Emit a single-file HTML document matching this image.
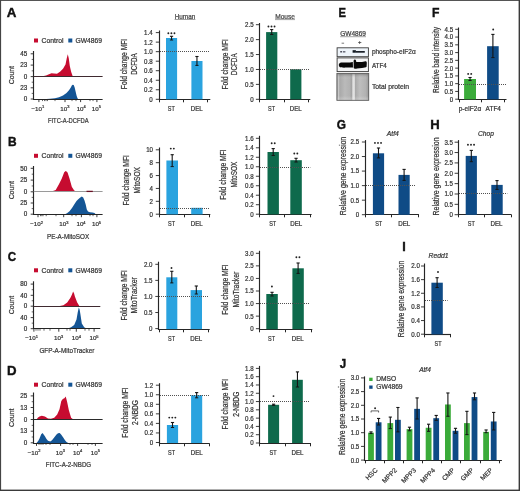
<!DOCTYPE html>
<html><head><meta charset="utf-8"><style>
html,body{margin:0;padding:0;background:#fff;}
svg{display:block;will-change:transform;}
text{font-family:"Liberation Sans",sans-serif;stroke:#3a3a3a;stroke-width:0.22px;}
</style></head><body>
<svg width="520" height="491" viewBox="0 0 520 491">
<rect x="0" y="0" width="520" height="491" fill="#fff"/>
<g fill="#2e2e2e">
<text transform="translate(6.87,17.3) scale(1.06,1)" font-size="12.6" font-weight="bold" fill="#111" style="stroke:#111;stroke-width:0.4px">A</text>
<rect x="34" y="38.5" width="4" height="4" fill="#c60c30"/>
<text x="41.5" y="42.8" font-size="7" textLength="22" lengthAdjust="spacingAndGlyphs">Control</text>
<rect x="68.3" y="38.5" width="4" height="4" fill="#145595"/>
<text x="75.4" y="42.8" font-size="7" textLength="26.6" lengthAdjust="spacingAndGlyphs">GW4869</text>
<path d="M41.5,76.5 L46,75.6 L49,74.2 L51.5,73.2 L54,73.6 L57,73.8 L60,71.8 L63,68.8 L65.5,64.5 L66.8,58 L67.8,54.2 L68.8,58.5 L69.8,66 L71.2,72 L72.8,76.5 Z" fill="#c60c30"/>
<path d="M43,99.3 L50,98.8 L55,98.2 L59,97.2 L63,95.6 L66.5,93 L69,90.2 L70.8,87.6 L71.8,85.6 L72.7,84.7 L73.7,85 L74.6,87.2 L75.6,91.5 L76.6,95.8 L77.5,98.3 L78.3,99.3 Z" fill="#145595"/>
<line x1="33.5" y1="51" x2="33.5" y2="100" stroke="#262626" stroke-width="1.15"/>
<line x1="33.5" y1="76.5" x2="102.6" y2="76.5" stroke="#3f2a30" stroke-width="1.1"/>
<line x1="33" y1="99.5" x2="102.6" y2="99.5" stroke="#262626" stroke-width="1.15"/>
<line x1="30.7" y1="53.8" x2="33.7" y2="53.8" stroke="#262626" stroke-width="0.9"/>
<text x="27.2" y="56" font-size="6.3" text-anchor="end">45</text>
<line x1="30.7" y1="65.1" x2="33.7" y2="65.1" stroke="#262626" stroke-width="0.9"/>
<text x="27.2" y="67.3" font-size="6.3" text-anchor="end">23</text>
<line x1="30.7" y1="76.6" x2="33.7" y2="76.6" stroke="#262626" stroke-width="0.9"/>
<text x="27.2" y="78.8" font-size="6.3" text-anchor="end">0</text>
<line x1="30.7" y1="87.8" x2="33.7" y2="87.8" stroke="#262626" stroke-width="0.9"/>
<text x="27.2" y="90" font-size="6.3" text-anchor="end">23</text>
<line x1="30.7" y1="99" x2="33.7" y2="99" stroke="#262626" stroke-width="0.9"/>
<text x="27.2" y="101.2" font-size="6.3" text-anchor="end">0</text>
<line x1="31.7" y1="59.45" x2="33.7" y2="59.45" stroke="#262626" stroke-width="0.7"/>
<line x1="31.7" y1="70.85" x2="33.7" y2="70.85" stroke="#262626" stroke-width="0.7"/>
<line x1="31.7" y1="82.2" x2="33.7" y2="82.2" stroke="#262626" stroke-width="0.7"/>
<line x1="31.7" y1="93.4" x2="33.7" y2="93.4" stroke="#262626" stroke-width="0.7"/>
<line x1="38.9" y1="99.3" x2="38.9" y2="102.1" stroke="#262626" stroke-width="0.9"/>
<line x1="65" y1="99.3" x2="65" y2="102.1" stroke="#262626" stroke-width="0.9"/>
<line x1="80.6" y1="99.3" x2="80.6" y2="102.1" stroke="#262626" stroke-width="0.9"/>
<line x1="96.9" y1="99.3" x2="96.9" y2="102.1" stroke="#262626" stroke-width="0.9"/>
<line x1="42.5" y1="99.3" x2="42.5" y2="101.1" stroke="#262626" stroke-width="0.7"/>
<line x1="44.5" y1="99.3" x2="44.5" y2="101.1" stroke="#262626" stroke-width="0.7"/>
<line x1="46" y1="99.3" x2="46" y2="101.1" stroke="#262626" stroke-width="0.7"/>
<line x1="47.5" y1="99.3" x2="47.5" y2="101.1" stroke="#262626" stroke-width="0.7"/>
<line x1="55" y1="99.3" x2="55" y2="101.1" stroke="#262626" stroke-width="0.7"/>
<line x1="72" y1="99.3" x2="72" y2="101.1" stroke="#262626" stroke-width="0.7"/>
<line x1="76" y1="99.3" x2="76" y2="101.1" stroke="#262626" stroke-width="0.7"/>
<line x1="90" y1="99.3" x2="90" y2="101.1" stroke="#262626" stroke-width="0.7"/>
<line x1="93" y1="99.3" x2="93" y2="101.1" stroke="#262626" stroke-width="0.7"/>
<text x="37.8" y="111" font-size="6.2" text-anchor="middle">&#8722;10<tspan font-size="4" dy="-2.6">1</tspan></text>
<text x="64.8" y="111" font-size="6.2" text-anchor="middle">10<tspan font-size="4" dy="-2.6">3</tspan></text>
<text x="81.2" y="111" font-size="6.2" text-anchor="middle">10<tspan font-size="4" dy="-2.6">4</tspan></text>
<text x="96.4" y="111" font-size="6.2" text-anchor="middle">10<tspan font-size="4" dy="-2.6">5</tspan></text>
<text transform="translate(13.9,75.15) rotate(-90)" font-size="7.4" text-anchor="middle" textLength="18.3" lengthAdjust="spacingAndGlyphs">Count</text>
<text x="68.3" y="123.2" font-size="7.6" text-anchor="middle" textLength="40.8" lengthAdjust="spacingAndGlyphs">FITC-A-DCFDA</text>
<text transform="translate(8,145.9) scale(0.95,1)" font-size="12.6" font-weight="bold" fill="#111" style="stroke:#111;stroke-width:0.4px">B</text>
<rect x="34" y="153.8" width="4" height="4" fill="#c60c30"/>
<text x="41.5" y="158.1" font-size="7" textLength="22" lengthAdjust="spacingAndGlyphs">Control</text>
<rect x="68.3" y="153.8" width="4" height="4" fill="#145595"/>
<text x="75.4" y="158.1" font-size="7" textLength="26.6" lengthAdjust="spacingAndGlyphs">GW4869</text>
<path d="M49.5,191.6 L53,191 L55.7,189.9 L58.8,184.5 L61.8,178.4 L64.2,172.2 L65.7,171 L67.2,172 L67.7,173 L69.5,178.4 L71.8,186.8 L74.2,190.6 L76,191.2 L80,191.3 L86,191 L90,190.9 L93,191.6 Z" fill="#c60c30"/>
<path d="M64.5,214.4 L67,213.2 L69.5,211.2 L72,208 L74.2,204.5 L76.5,201 L78.5,199 L80.3,197.6 L81.8,196.6 L83.2,197.6 L84.5,200.5 L85.7,204.5 L86.8,209.5 L88,211.6 L90,212.2 L92.5,212.6 L94.5,213.1 L96,214.4 Z" fill="#145595"/>
<line x1="33.5" y1="166" x2="33.5" y2="215" stroke="#262626" stroke-width="1.15"/>
<line x1="33.5" y1="191.5" x2="102.6" y2="191.5" stroke="#9a9a9a" stroke-width="1.1"/>
<line x1="33" y1="214.5" x2="102.6" y2="214.5" stroke="#262626" stroke-width="1.15"/>
<line x1="30.7" y1="168.3" x2="33.7" y2="168.3" stroke="#262626" stroke-width="0.9"/>
<text x="27.2" y="170.5" font-size="6.3" text-anchor="end">50</text>
<line x1="30.7" y1="180.1" x2="33.7" y2="180.1" stroke="#262626" stroke-width="0.9"/>
<text x="27.2" y="182.3" font-size="6.3" text-anchor="end">25</text>
<line x1="30.7" y1="191.8" x2="33.7" y2="191.8" stroke="#262626" stroke-width="0.9"/>
<text x="27.2" y="194" font-size="6.3" text-anchor="end">0</text>
<line x1="30.7" y1="203" x2="33.7" y2="203" stroke="#262626" stroke-width="0.9"/>
<text x="27.2" y="205.2" font-size="6.3" text-anchor="end">25</text>
<line x1="30.7" y1="214.2" x2="33.7" y2="214.2" stroke="#262626" stroke-width="0.9"/>
<text x="27.2" y="216.4" font-size="6.3" text-anchor="end">0</text>
<line x1="31.7" y1="174.2" x2="33.7" y2="174.2" stroke="#262626" stroke-width="0.7"/>
<line x1="31.7" y1="185.95" x2="33.7" y2="185.95" stroke="#262626" stroke-width="0.7"/>
<line x1="31.7" y1="197.4" x2="33.7" y2="197.4" stroke="#262626" stroke-width="0.7"/>
<line x1="31.7" y1="208.6" x2="33.7" y2="208.6" stroke="#262626" stroke-width="0.7"/>
<line x1="38" y1="214.4" x2="38" y2="217.2" stroke="#262626" stroke-width="0.9"/>
<line x1="63.7" y1="214.4" x2="63.7" y2="217.2" stroke="#262626" stroke-width="0.9"/>
<line x1="81.4" y1="214.4" x2="81.4" y2="217.2" stroke="#262626" stroke-width="0.9"/>
<line x1="96.9" y1="214.4" x2="96.9" y2="217.2" stroke="#262626" stroke-width="0.9"/>
<line x1="40.5" y1="214.4" x2="40.5" y2="216.2" stroke="#262626" stroke-width="0.7"/>
<line x1="41.8" y1="214.4" x2="41.8" y2="216.2" stroke="#262626" stroke-width="0.7"/>
<line x1="43" y1="214.4" x2="43" y2="216.2" stroke="#262626" stroke-width="0.7"/>
<line x1="46.2" y1="214.4" x2="46.2" y2="216.2" stroke="#262626" stroke-width="0.7"/>
<line x1="56" y1="214.4" x2="56" y2="216.2" stroke="#262626" stroke-width="0.7"/>
<line x1="72" y1="214.4" x2="72" y2="216.2" stroke="#262626" stroke-width="0.7"/>
<line x1="76" y1="214.4" x2="76" y2="216.2" stroke="#262626" stroke-width="0.7"/>
<line x1="90" y1="214.4" x2="90" y2="216.2" stroke="#262626" stroke-width="0.7"/>
<line x1="93" y1="214.4" x2="93" y2="216.2" stroke="#262626" stroke-width="0.7"/>
<text x="36.6" y="226.2" font-size="6.2" text-anchor="middle">&#8722;10<tspan font-size="4" dy="-2.6">2</tspan></text>
<text x="63.9" y="226.2" font-size="6.2" text-anchor="middle">10<tspan font-size="4" dy="-2.6">3</tspan></text>
<text x="81" y="226.2" font-size="6.2" text-anchor="middle">10<tspan font-size="4" dy="-2.6">4</tspan></text>
<text x="96.5" y="226.2" font-size="6.2" text-anchor="middle">10<tspan font-size="4" dy="-2.6">5</tspan></text>
<text transform="translate(13.9,190.2) rotate(-90)" font-size="7.4" text-anchor="middle" textLength="18.3" lengthAdjust="spacingAndGlyphs">Count</text>
<text x="68.1" y="238.8" font-size="7.6" text-anchor="middle" textLength="42.2" lengthAdjust="spacingAndGlyphs">PE-A-MitoSOX</text>
<line x1="86.5" y1="191.4" x2="92.8" y2="191.4" stroke="#6a1025" stroke-width="1.3"/>
<text transform="translate(7.82,260.7) scale(0.92,1)" font-size="12.6" font-weight="bold" fill="#111" style="stroke:#111;stroke-width:0.4px">C</text>
<rect x="34" y="268.3" width="4" height="4" fill="#c60c30"/>
<text x="41.5" y="272.6" font-size="7" textLength="22" lengthAdjust="spacingAndGlyphs">Control</text>
<rect x="68.3" y="268.3" width="4" height="4" fill="#145595"/>
<text x="75.4" y="272.6" font-size="7" textLength="26.6" lengthAdjust="spacingAndGlyphs">GW4869</text>
<path d="M58.5,306.2 L61,305.8 L63.4,305.3 L67.2,302.6 L70.3,298 L72,294.5 L73.1,291.5 L74.1,293.5 L74.9,296.5 L77.2,302.6 L79.5,306.2 Z" fill="#c60c30"/>
<path d="M66.5,328.9 L71.1,327.2 L74.2,324.9 L76.5,319.5 L77.8,312 L78.8,307.4 L79.6,309.5 L80.3,313.4 L81.8,323.4 L84.2,327.2 L86,328.3 L88,328.9 Z" fill="#145595"/>
<line x1="33.5" y1="281.3" x2="33.5" y2="329" stroke="#262626" stroke-width="1.15"/>
<line x1="33.5" y1="306.5" x2="100.3" y2="306.5" stroke="#3f2a30" stroke-width="1.1"/>
<line x1="33" y1="328.5" x2="100.3" y2="328.5" stroke="#262626" stroke-width="1.15"/>
<line x1="30.7" y1="284.1" x2="33.7" y2="284.1" stroke="#262626" stroke-width="0.9"/>
<text x="27.2" y="286.3" font-size="6.3" text-anchor="end">80</text>
<line x1="30.7" y1="295.3" x2="33.7" y2="295.3" stroke="#262626" stroke-width="0.9"/>
<text x="27.2" y="297.5" font-size="6.3" text-anchor="end">40</text>
<line x1="30.7" y1="306.2" x2="33.7" y2="306.2" stroke="#262626" stroke-width="0.9"/>
<text x="27.2" y="308.4" font-size="6.3" text-anchor="end">0</text>
<line x1="30.7" y1="317.6" x2="33.7" y2="317.6" stroke="#262626" stroke-width="0.9"/>
<text x="27.2" y="319.8" font-size="6.3" text-anchor="end">40</text>
<line x1="30.7" y1="328.7" x2="33.7" y2="328.7" stroke="#262626" stroke-width="0.9"/>
<text x="27.2" y="330.9" font-size="6.3" text-anchor="end">0</text>
<line x1="31.7" y1="289.7" x2="33.7" y2="289.7" stroke="#262626" stroke-width="0.7"/>
<line x1="31.7" y1="300.75" x2="33.7" y2="300.75" stroke="#262626" stroke-width="0.7"/>
<line x1="31.7" y1="311.9" x2="33.7" y2="311.9" stroke="#262626" stroke-width="0.7"/>
<line x1="31.7" y1="323.15" x2="33.7" y2="323.15" stroke="#262626" stroke-width="0.7"/>
<line x1="33.9" y1="328.9" x2="33.9" y2="331.7" stroke="#262626" stroke-width="0.9"/>
<line x1="58.8" y1="328.9" x2="58.8" y2="331.7" stroke="#262626" stroke-width="0.9"/>
<line x1="76.3" y1="328.9" x2="76.3" y2="331.7" stroke="#262626" stroke-width="0.9"/>
<line x1="94.1" y1="328.9" x2="94.1" y2="331.7" stroke="#262626" stroke-width="0.9"/>
<line x1="36" y1="328.9" x2="36" y2="330.7" stroke="#262626" stroke-width="0.7"/>
<line x1="38" y1="328.9" x2="38" y2="330.7" stroke="#262626" stroke-width="0.7"/>
<line x1="40" y1="328.9" x2="40" y2="330.7" stroke="#262626" stroke-width="0.7"/>
<line x1="44" y1="328.9" x2="44" y2="330.7" stroke="#262626" stroke-width="0.7"/>
<line x1="50" y1="328.9" x2="50" y2="330.7" stroke="#262626" stroke-width="0.7"/>
<line x1="67" y1="328.9" x2="67" y2="330.7" stroke="#262626" stroke-width="0.7"/>
<line x1="70" y1="328.9" x2="70" y2="330.7" stroke="#262626" stroke-width="0.7"/>
<line x1="85" y1="328.9" x2="85" y2="330.7" stroke="#262626" stroke-width="0.7"/>
<line x1="89" y1="328.9" x2="89" y2="330.7" stroke="#262626" stroke-width="0.7"/>
<text x="31.5" y="340.2" font-size="6.2" text-anchor="middle">&#8722;10<tspan font-size="4" dy="-2.6">1</tspan></text>
<text x="58.6" y="340.2" font-size="6.2" text-anchor="middle">10<tspan font-size="4" dy="-2.6">3</tspan></text>
<text x="76.4" y="340.2" font-size="6.2" text-anchor="middle">10<tspan font-size="4" dy="-2.6">4</tspan></text>
<text x="94" y="340.2" font-size="6.2" text-anchor="middle">10<tspan font-size="4" dy="-2.6">5</tspan></text>
<text transform="translate(13.9,305.1) rotate(-90)" font-size="7.4" text-anchor="middle" textLength="18.3" lengthAdjust="spacingAndGlyphs">Count</text>
<text x="66.9" y="352.8" font-size="7.6" text-anchor="middle" textLength="55" lengthAdjust="spacingAndGlyphs">GFP-A-MitoTracker</text>
<text transform="translate(7.12,375) scale(1.05,1)" font-size="12.6" font-weight="bold" fill="#111" style="stroke:#111;stroke-width:0.4px">D</text>
<rect x="34" y="382.7" width="4" height="4" fill="#c60c30"/>
<text x="41.5" y="387" font-size="7" textLength="22" lengthAdjust="spacingAndGlyphs">Control</text>
<rect x="68.3" y="382.7" width="4" height="4" fill="#145595"/>
<text x="75.4" y="387" font-size="7" textLength="26.6" lengthAdjust="spacingAndGlyphs">GW4869</text>
<path d="M36.5,419.4 L38,417.6 L39.5,416.5 L41.8,415.8 L44.9,416.6 L48,418.4 L51,418.8 L54.2,417.7 L57.2,414.6 L59.5,409.2 L61.3,401 L62.8,398.9 L64.4,398.3 L65.7,396.5 L66.4,399 L67.2,402.3 L68.8,410 L71.1,417.7 L73.4,419.4 Z" fill="#c60c30"/>
<path d="M36.5,443.1 L38.2,441 L39.5,438.5 L41.2,434.2 L42.6,433 L44,435 L44.9,436.2 L46.5,439 L48,440.8 L50.3,441.5 L52,440.2 L53.4,438.5 L56.5,434.6 L58,433.3 L59.7,433.1 L61.1,434.6 L63.4,437.7 L65,440.3 L66.5,442 L68.2,443.1 Z" fill="#145595"/>
<line x1="33.5" y1="392.5" x2="33.5" y2="444" stroke="#262626" stroke-width="1.15"/>
<line x1="33.5" y1="419.5" x2="102.6" y2="419.5" stroke="#2a2a2a" stroke-width="1.1"/>
<line x1="33" y1="443.5" x2="102.6" y2="443.5" stroke="#262626" stroke-width="1.15"/>
<line x1="30.7" y1="395.9" x2="33.7" y2="395.9" stroke="#262626" stroke-width="0.9"/>
<text x="27.2" y="398.1" font-size="6.3" text-anchor="end">25</text>
<line x1="30.7" y1="407.5" x2="33.7" y2="407.5" stroke="#262626" stroke-width="0.9"/>
<text x="27.2" y="409.7" font-size="6.3" text-anchor="end">13</text>
<line x1="30.7" y1="419.5" x2="33.7" y2="419.5" stroke="#262626" stroke-width="0.9"/>
<text x="27.2" y="421.7" font-size="6.3" text-anchor="end">0</text>
<line x1="30.7" y1="431.2" x2="33.7" y2="431.2" stroke="#262626" stroke-width="0.9"/>
<text x="27.2" y="433.4" font-size="6.3" text-anchor="end">13</text>
<line x1="30.7" y1="442.8" x2="33.7" y2="442.8" stroke="#262626" stroke-width="0.9"/>
<text x="27.2" y="445" font-size="6.3" text-anchor="end">0</text>
<line x1="31.7" y1="401.7" x2="33.7" y2="401.7" stroke="#262626" stroke-width="0.7"/>
<line x1="31.7" y1="413.5" x2="33.7" y2="413.5" stroke="#262626" stroke-width="0.7"/>
<line x1="31.7" y1="425.35" x2="33.7" y2="425.35" stroke="#262626" stroke-width="0.7"/>
<line x1="31.7" y1="437" x2="33.7" y2="437" stroke="#262626" stroke-width="0.7"/>
<line x1="36.5" y1="443.1" x2="36.5" y2="445.9" stroke="#262626" stroke-width="0.9"/>
<line x1="60.6" y1="443.1" x2="60.6" y2="445.9" stroke="#262626" stroke-width="0.9"/>
<line x1="77.6" y1="443.1" x2="77.6" y2="445.9" stroke="#262626" stroke-width="0.9"/>
<line x1="95.4" y1="443.1" x2="95.4" y2="445.9" stroke="#262626" stroke-width="0.9"/>
<line x1="39" y1="443.1" x2="39" y2="444.9" stroke="#262626" stroke-width="0.7"/>
<line x1="41" y1="443.1" x2="41" y2="444.9" stroke="#262626" stroke-width="0.7"/>
<line x1="43" y1="443.1" x2="43" y2="444.9" stroke="#262626" stroke-width="0.7"/>
<line x1="46" y1="443.1" x2="46" y2="444.9" stroke="#262626" stroke-width="0.7"/>
<line x1="50" y1="443.1" x2="50" y2="444.9" stroke="#262626" stroke-width="0.7"/>
<line x1="70" y1="443.1" x2="70" y2="444.9" stroke="#262626" stroke-width="0.7"/>
<line x1="73" y1="443.1" x2="73" y2="444.9" stroke="#262626" stroke-width="0.7"/>
<line x1="88" y1="443.1" x2="88" y2="444.9" stroke="#262626" stroke-width="0.7"/>
<line x1="92" y1="443.1" x2="92" y2="444.9" stroke="#262626" stroke-width="0.7"/>
<text x="34" y="455" font-size="6.2" text-anchor="middle">&#8722;10<tspan font-size="4" dy="-2.6">2</tspan></text>
<text x="60.4" y="455" font-size="6.2" text-anchor="middle">10<tspan font-size="4" dy="-2.6">3</tspan></text>
<text x="77.6" y="455" font-size="6.2" text-anchor="middle">10<tspan font-size="4" dy="-2.6">4</tspan></text>
<text x="95.3" y="455" font-size="6.2" text-anchor="middle">10<tspan font-size="4" dy="-2.6">5</tspan></text>
<text transform="translate(13.9,417.8) rotate(-90)" font-size="7.4" text-anchor="middle" textLength="18.3" lengthAdjust="spacingAndGlyphs">Count</text>
<text x="68.5" y="467" font-size="7.6" text-anchor="middle" textLength="45.3" lengthAdjust="spacingAndGlyphs">FITC-A-2-NBDG</text>
<text x="185" y="18.9" font-size="6.4" text-anchor="middle" textLength="20.6" lengthAdjust="spacingAndGlyphs" fill="#555">Human</text>
<line x1="174.6" y1="19.5" x2="195.4" y2="19.5" stroke="#666" stroke-width="0.6"/>
<line x1="159.5" y1="30.5" x2="159.5" y2="100" stroke="#262626" stroke-width="1.15"/>
<line x1="159" y1="99.5" x2="210.3" y2="99.5" stroke="#262626" stroke-width="1.15"/>
<line x1="155.8" y1="99.3" x2="159.3" y2="99.3" stroke="#262626" stroke-width="0.9"/>
<text x="152.6" y="101.7" font-size="6.7" text-anchor="end" textLength="3.43" lengthAdjust="spacingAndGlyphs">0</text>
<line x1="155.8" y1="89.77" x2="159.3" y2="89.77" stroke="#262626" stroke-width="0.9"/>
<text x="152.6" y="92.17" font-size="6.7" text-anchor="end" textLength="8.57" lengthAdjust="spacingAndGlyphs">0.2</text>
<line x1="155.8" y1="80.24" x2="159.3" y2="80.24" stroke="#262626" stroke-width="0.9"/>
<text x="152.6" y="82.64" font-size="6.7" text-anchor="end" textLength="8.57" lengthAdjust="spacingAndGlyphs">0.4</text>
<line x1="155.8" y1="70.71" x2="159.3" y2="70.71" stroke="#262626" stroke-width="0.9"/>
<text x="152.6" y="73.11" font-size="6.7" text-anchor="end" textLength="8.57" lengthAdjust="spacingAndGlyphs">0.6</text>
<line x1="155.8" y1="61.19" x2="159.3" y2="61.19" stroke="#262626" stroke-width="0.9"/>
<text x="152.6" y="63.59" font-size="6.7" text-anchor="end" textLength="8.57" lengthAdjust="spacingAndGlyphs">0.8</text>
<line x1="155.8" y1="51.66" x2="159.3" y2="51.66" stroke="#262626" stroke-width="0.9"/>
<text x="152.6" y="54.06" font-size="6.7" text-anchor="end" textLength="8.57" lengthAdjust="spacingAndGlyphs">1.0</text>
<line x1="155.8" y1="42.13" x2="159.3" y2="42.13" stroke="#262626" stroke-width="0.9"/>
<text x="152.6" y="44.53" font-size="6.7" text-anchor="end" textLength="8.57" lengthAdjust="spacingAndGlyphs">1.2</text>
<line x1="155.8" y1="32.6" x2="159.3" y2="32.6" stroke="#262626" stroke-width="0.9"/>
<text x="152.6" y="35" font-size="6.7" text-anchor="end" textLength="8.57" lengthAdjust="spacingAndGlyphs">1.4</text>
<line x1="159.5" y1="99.5" x2="159.5" y2="102.3" stroke="#262626" stroke-width="1"/>
<line x1="183.5" y1="99.5" x2="183.5" y2="102.3" stroke="#262626" stroke-width="1"/>
<line x1="207.5" y1="99.5" x2="207.5" y2="102.3" stroke="#262626" stroke-width="1"/>
<rect x="166" y="38" width="11.1" height="61.3" fill="#2aa3df"/>
<rect x="191.4" y="61" width="11.1" height="38.3" fill="#2aa3df"/>
<line x1="160" y1="51.5" x2="209.5" y2="51.5" stroke="#505050" stroke-width="1" stroke-dasharray="1 1"/>
<line x1="171.55" y1="36.3" x2="171.55" y2="40" stroke="#151515" stroke-width="1.1"/>
<line x1="169.95" y1="36.3" x2="173.15" y2="36.3" stroke="#151515" stroke-width="1.1"/>
<line x1="169.95" y1="40" x2="173.15" y2="40" stroke="#151515" stroke-width="1"/>
<line x1="196.95" y1="56.5" x2="196.95" y2="65.4" stroke="#151515" stroke-width="1.1"/>
<line x1="195.35" y1="56.5" x2="198.55" y2="56.5" stroke="#151515" stroke-width="1.1"/>
<line x1="195.35" y1="65.4" x2="198.55" y2="65.4" stroke="#151515" stroke-width="1"/>
<circle cx="168.35" cy="33.2" r="0.95" fill="#222"/>
<circle cx="171.4" cy="33.2" r="0.95" fill="#222"/>
<circle cx="174.45" cy="33.2" r="0.95" fill="#222"/>
<text x="171.3" y="110.7" font-size="6.5" text-anchor="middle" textLength="7" lengthAdjust="spacingAndGlyphs">ST</text>
<text x="196.7" y="110.7" font-size="6.5" text-anchor="middle" textLength="12" lengthAdjust="spacingAndGlyphs">DEL</text>
<text transform="translate(126.9,64) rotate(-90)" font-size="8.3" text-anchor="middle" textLength="50.4" lengthAdjust="spacingAndGlyphs">Fold change MFI</text>
<text transform="translate(137.2,64) rotate(-90)" font-size="8.3" text-anchor="middle" textLength="21.4" lengthAdjust="spacingAndGlyphs">DCFDA</text>
<text x="285.1" y="19.1" font-size="6.4" text-anchor="middle" textLength="19.8" lengthAdjust="spacingAndGlyphs" fill="#555">Mouse</text>
<line x1="275" y1="19.6" x2="295" y2="19.6" stroke="#666" stroke-width="0.6"/>
<line x1="259.5" y1="23" x2="259.5" y2="100" stroke="#262626" stroke-width="1.15"/>
<line x1="259" y1="99.5" x2="310.3" y2="99.5" stroke="#262626" stroke-width="1.15"/>
<line x1="255.9" y1="99.3" x2="259.4" y2="99.3" stroke="#262626" stroke-width="0.9"/>
<text x="253.6" y="101.7" font-size="6.7" text-anchor="end" textLength="3.43" lengthAdjust="spacingAndGlyphs">0</text>
<line x1="255.9" y1="84.38" x2="259.4" y2="84.38" stroke="#262626" stroke-width="0.9"/>
<text x="253.6" y="86.78" font-size="6.7" text-anchor="end" textLength="8.57" lengthAdjust="spacingAndGlyphs">0.5</text>
<line x1="255.9" y1="69.46" x2="259.4" y2="69.46" stroke="#262626" stroke-width="0.9"/>
<text x="253.6" y="71.86" font-size="6.7" text-anchor="end" textLength="8.57" lengthAdjust="spacingAndGlyphs">1.0</text>
<line x1="255.9" y1="54.54" x2="259.4" y2="54.54" stroke="#262626" stroke-width="0.9"/>
<text x="253.6" y="56.94" font-size="6.7" text-anchor="end" textLength="8.57" lengthAdjust="spacingAndGlyphs">1.5</text>
<line x1="255.9" y1="39.62" x2="259.4" y2="39.62" stroke="#262626" stroke-width="0.9"/>
<text x="253.6" y="42.02" font-size="6.7" text-anchor="end" textLength="8.57" lengthAdjust="spacingAndGlyphs">2.0</text>
<line x1="255.9" y1="24.7" x2="259.4" y2="24.7" stroke="#262626" stroke-width="0.9"/>
<text x="253.6" y="27.1" font-size="6.7" text-anchor="end" textLength="8.57" lengthAdjust="spacingAndGlyphs">2.5</text>
<line x1="259.5" y1="99.5" x2="259.5" y2="102.3" stroke="#262626" stroke-width="1"/>
<line x1="284.5" y1="99.5" x2="284.5" y2="102.3" stroke="#262626" stroke-width="1"/>
<line x1="308.5" y1="99.5" x2="308.5" y2="102.3" stroke="#262626" stroke-width="1"/>
<rect x="266.1" y="32.1" width="11.2" height="67.2" fill="#0e6a4c"/>
<rect x="290.2" y="69.3" width="11.2" height="30" fill="#0e6a4c"/>
<line x1="260" y1="69.5" x2="309.5" y2="69.5" stroke="#505050" stroke-width="1" stroke-dasharray="1 1"/>
<line x1="271.7" y1="29.6" x2="271.7" y2="34.5" stroke="#151515" stroke-width="1.1"/>
<line x1="270.1" y1="29.6" x2="273.3" y2="29.6" stroke="#151515" stroke-width="1.1"/>
<line x1="270.1" y1="34.5" x2="273.3" y2="34.5" stroke="#151515" stroke-width="1"/>
<circle cx="268.45" cy="26.5" r="0.95" fill="#222"/>
<circle cx="271.5" cy="26.5" r="0.95" fill="#222"/>
<circle cx="274.55" cy="26.5" r="0.95" fill="#222"/>
<text x="271.5" y="110.7" font-size="6.5" text-anchor="middle" textLength="7" lengthAdjust="spacingAndGlyphs">ST</text>
<text x="295.8" y="110.7" font-size="6.5" text-anchor="middle" textLength="12" lengthAdjust="spacingAndGlyphs">DEL</text>
<text transform="translate(227.6,64.3) rotate(-90)" font-size="8.3" text-anchor="middle" textLength="50.4" lengthAdjust="spacingAndGlyphs">Fold change MFI</text>
<text transform="translate(237.4,64.3) rotate(-90)" font-size="8.3" text-anchor="middle" textLength="21.8" lengthAdjust="spacingAndGlyphs">DCFDA</text>
<line x1="159.5" y1="147.5" x2="159.5" y2="215" stroke="#262626" stroke-width="1.15"/>
<line x1="159" y1="214.5" x2="210.3" y2="214.5" stroke="#262626" stroke-width="1.15"/>
<line x1="155.8" y1="214.2" x2="159.3" y2="214.2" stroke="#262626" stroke-width="0.9"/>
<text x="153" y="216.6" font-size="6.7" text-anchor="end" textLength="3.43" lengthAdjust="spacingAndGlyphs">0</text>
<line x1="155.8" y1="201.32" x2="159.3" y2="201.32" stroke="#262626" stroke-width="0.9"/>
<text x="153" y="203.72" font-size="6.7" text-anchor="end" textLength="3.43" lengthAdjust="spacingAndGlyphs">2</text>
<line x1="155.8" y1="188.44" x2="159.3" y2="188.44" stroke="#262626" stroke-width="0.9"/>
<text x="153" y="190.84" font-size="6.7" text-anchor="end" textLength="3.43" lengthAdjust="spacingAndGlyphs">4</text>
<line x1="155.8" y1="175.56" x2="159.3" y2="175.56" stroke="#262626" stroke-width="0.9"/>
<text x="153" y="177.96" font-size="6.7" text-anchor="end" textLength="3.43" lengthAdjust="spacingAndGlyphs">6</text>
<line x1="155.8" y1="162.68" x2="159.3" y2="162.68" stroke="#262626" stroke-width="0.9"/>
<text x="153" y="165.08" font-size="6.7" text-anchor="end" textLength="3.43" lengthAdjust="spacingAndGlyphs">8</text>
<line x1="155.8" y1="149.8" x2="159.3" y2="149.8" stroke="#262626" stroke-width="0.9"/>
<text x="153" y="152.2" font-size="6.7" text-anchor="end" textLength="6.86" lengthAdjust="spacingAndGlyphs">10</text>
<line x1="159.5" y1="214.5" x2="159.5" y2="217.3" stroke="#262626" stroke-width="1"/>
<line x1="184.5" y1="214.5" x2="184.5" y2="217.3" stroke="#262626" stroke-width="1"/>
<line x1="209.5" y1="214.5" x2="209.5" y2="217.3" stroke="#262626" stroke-width="1"/>
<rect x="166.4" y="160.5" width="11.6" height="53.9" fill="#2aa3df"/>
<rect x="191.2" y="207.8" width="11.4" height="6.6" fill="#2aa3df"/>
<line x1="160" y1="208.5" x2="209.5" y2="208.5" stroke="#505050" stroke-width="1" stroke-dasharray="1 1"/>
<line x1="172.2" y1="154.7" x2="172.2" y2="166.6" stroke="#151515" stroke-width="1.1"/>
<line x1="170.6" y1="154.7" x2="173.8" y2="154.7" stroke="#151515" stroke-width="1.1"/>
<line x1="170.6" y1="166.6" x2="173.8" y2="166.6" stroke="#151515" stroke-width="1"/>
<circle cx="170.78" cy="148.6" r="0.95" fill="#222"/>
<circle cx="173.83" cy="148.6" r="0.95" fill="#222"/>
<text x="171.6" y="226.2" font-size="6.5" text-anchor="middle" textLength="7" lengthAdjust="spacingAndGlyphs">ST</text>
<text x="196.8" y="226.2" font-size="6.5" text-anchor="middle" textLength="12" lengthAdjust="spacingAndGlyphs">DEL</text>
<text transform="translate(129,180.3) rotate(-90)" font-size="8.3" text-anchor="middle" textLength="50.4" lengthAdjust="spacingAndGlyphs">Fold change MFI</text>
<text transform="translate(140,180.3) rotate(-90)" font-size="8.3" text-anchor="middle" textLength="26.5" lengthAdjust="spacingAndGlyphs">MitoSOX</text>
<line x1="259.5" y1="135.8" x2="259.5" y2="215" stroke="#262626" stroke-width="1.15"/>
<line x1="259" y1="214.5" x2="311.6" y2="214.5" stroke="#262626" stroke-width="1.15"/>
<line x1="255.9" y1="214.2" x2="259.4" y2="214.2" stroke="#262626" stroke-width="0.9"/>
<text x="253.6" y="216.6" font-size="6.7" text-anchor="end" textLength="3.43" lengthAdjust="spacingAndGlyphs">0</text>
<line x1="255.9" y1="204.71" x2="259.4" y2="204.71" stroke="#262626" stroke-width="0.9"/>
<text x="253.6" y="207.11" font-size="6.7" text-anchor="end" textLength="8.57" lengthAdjust="spacingAndGlyphs">0.2</text>
<line x1="255.9" y1="195.22" x2="259.4" y2="195.22" stroke="#262626" stroke-width="0.9"/>
<text x="253.6" y="197.62" font-size="6.7" text-anchor="end" textLength="8.57" lengthAdjust="spacingAndGlyphs">0.4</text>
<line x1="255.9" y1="185.74" x2="259.4" y2="185.74" stroke="#262626" stroke-width="0.9"/>
<text x="253.6" y="188.14" font-size="6.7" text-anchor="end" textLength="8.57" lengthAdjust="spacingAndGlyphs">0.6</text>
<line x1="255.9" y1="176.25" x2="259.4" y2="176.25" stroke="#262626" stroke-width="0.9"/>
<text x="253.6" y="178.65" font-size="6.7" text-anchor="end" textLength="8.57" lengthAdjust="spacingAndGlyphs">0.8</text>
<line x1="255.9" y1="166.76" x2="259.4" y2="166.76" stroke="#262626" stroke-width="0.9"/>
<text x="253.6" y="169.16" font-size="6.7" text-anchor="end" textLength="8.57" lengthAdjust="spacingAndGlyphs">1.0</text>
<line x1="255.9" y1="157.28" x2="259.4" y2="157.28" stroke="#262626" stroke-width="0.9"/>
<text x="253.6" y="159.68" font-size="6.7" text-anchor="end" textLength="8.57" lengthAdjust="spacingAndGlyphs">1.2</text>
<line x1="255.9" y1="147.79" x2="259.4" y2="147.79" stroke="#262626" stroke-width="0.9"/>
<text x="253.6" y="150.19" font-size="6.7" text-anchor="end" textLength="8.57" lengthAdjust="spacingAndGlyphs">1.4</text>
<line x1="255.9" y1="138.3" x2="259.4" y2="138.3" stroke="#262626" stroke-width="0.9"/>
<text x="253.6" y="140.7" font-size="6.7" text-anchor="end" textLength="8.57" lengthAdjust="spacingAndGlyphs">1.6</text>
<line x1="259.5" y1="214.5" x2="259.5" y2="217.3" stroke="#262626" stroke-width="1"/>
<line x1="284.5" y1="214.5" x2="284.5" y2="217.3" stroke="#262626" stroke-width="1"/>
<line x1="310.5" y1="214.5" x2="310.5" y2="217.3" stroke="#262626" stroke-width="1"/>
<rect x="267.5" y="152" width="11.4" height="62.4" fill="#0e6a4c"/>
<rect x="290.3" y="160.2" width="11.5" height="54.2" fill="#0e6a4c"/>
<line x1="260" y1="167.5" x2="310.3" y2="167.5" stroke="#505050" stroke-width="1" stroke-dasharray="1 1"/>
<line x1="273.2" y1="148.6" x2="273.2" y2="155.5" stroke="#151515" stroke-width="1.1"/>
<line x1="271.6" y1="148.6" x2="274.8" y2="148.6" stroke="#151515" stroke-width="1.1"/>
<line x1="271.6" y1="155.5" x2="274.8" y2="155.5" stroke="#151515" stroke-width="1"/>
<line x1="296.05" y1="158.3" x2="296.05" y2="162" stroke="#151515" stroke-width="1.1"/>
<line x1="294.45" y1="158.3" x2="297.65" y2="158.3" stroke="#151515" stroke-width="1.1"/>
<line x1="294.45" y1="162" x2="297.65" y2="162" stroke="#151515" stroke-width="1"/>
<circle cx="271.68" cy="143.2" r="0.95" fill="#222"/>
<circle cx="274.72" cy="143.2" r="0.95" fill="#222"/>
<circle cx="294.28" cy="153.5" r="0.95" fill="#222"/>
<circle cx="297.32" cy="153.5" r="0.95" fill="#222"/>
<text x="272.7" y="226.2" font-size="6.5" text-anchor="middle" textLength="7" lengthAdjust="spacingAndGlyphs">ST</text>
<text x="296.3" y="226.2" font-size="6.5" text-anchor="middle" textLength="12" lengthAdjust="spacingAndGlyphs">DEL</text>
<text transform="translate(225.9,174.6) rotate(-90)" font-size="8.3" text-anchor="middle" textLength="50.4" lengthAdjust="spacingAndGlyphs">Fold change MFI</text>
<text transform="translate(237.3,174.6) rotate(-90)" font-size="8.3" text-anchor="middle" textLength="25.8" lengthAdjust="spacingAndGlyphs">MitoSOX</text>
<line x1="158.5" y1="261.7" x2="158.5" y2="330" stroke="#262626" stroke-width="1.15"/>
<line x1="158" y1="329.5" x2="209.7" y2="329.5" stroke="#262626" stroke-width="1.15"/>
<line x1="155.3" y1="328.6" x2="158.8" y2="328.6" stroke="#262626" stroke-width="0.9"/>
<text x="152.5" y="331" font-size="6.7" text-anchor="end" textLength="3.43" lengthAdjust="spacingAndGlyphs">0</text>
<line x1="155.3" y1="312.53" x2="158.8" y2="312.53" stroke="#262626" stroke-width="0.9"/>
<text x="152.5" y="314.93" font-size="6.7" text-anchor="end" textLength="8.57" lengthAdjust="spacingAndGlyphs">0.5</text>
<line x1="155.3" y1="296.45" x2="158.8" y2="296.45" stroke="#262626" stroke-width="0.9"/>
<text x="152.5" y="298.85" font-size="6.7" text-anchor="end" textLength="8.57" lengthAdjust="spacingAndGlyphs">1.0</text>
<line x1="155.3" y1="280.38" x2="158.8" y2="280.38" stroke="#262626" stroke-width="0.9"/>
<text x="152.5" y="282.77" font-size="6.7" text-anchor="end" textLength="8.57" lengthAdjust="spacingAndGlyphs">1.5</text>
<line x1="155.3" y1="264.3" x2="158.8" y2="264.3" stroke="#262626" stroke-width="0.9"/>
<text x="152.5" y="266.7" font-size="6.7" text-anchor="end" textLength="8.57" lengthAdjust="spacingAndGlyphs">2.0</text>
<line x1="159.5" y1="329.5" x2="159.5" y2="332.3" stroke="#262626" stroke-width="1"/>
<line x1="183.5" y1="329.5" x2="183.5" y2="332.3" stroke="#262626" stroke-width="1"/>
<line x1="208.5" y1="329.5" x2="208.5" y2="332.3" stroke="#262626" stroke-width="1"/>
<rect x="166.3" y="277.3" width="11" height="51.8" fill="#2aa3df"/>
<rect x="190.6" y="290.1" width="11.4" height="39" fill="#2aa3df"/>
<line x1="159" y1="296.5" x2="208.5" y2="296.5" stroke="#505050" stroke-width="1" stroke-dasharray="1 1"/>
<line x1="171.8" y1="271.3" x2="171.8" y2="282.9" stroke="#151515" stroke-width="1.1"/>
<line x1="170.2" y1="271.3" x2="173.4" y2="271.3" stroke="#151515" stroke-width="1.1"/>
<line x1="170.2" y1="282.9" x2="173.4" y2="282.9" stroke="#151515" stroke-width="1"/>
<line x1="196.3" y1="286" x2="196.3" y2="294" stroke="#151515" stroke-width="1.1"/>
<line x1="194.7" y1="286" x2="197.9" y2="286" stroke="#151515" stroke-width="1.1"/>
<line x1="194.7" y1="294" x2="197.9" y2="294" stroke="#151515" stroke-width="1"/>
<circle cx="171.5" cy="268" r="0.95" fill="#222"/>
<text x="171.5" y="340.8" font-size="6.5" text-anchor="middle" textLength="7" lengthAdjust="spacingAndGlyphs">ST</text>
<text x="196.2" y="340.8" font-size="6.5" text-anchor="middle" textLength="12" lengthAdjust="spacingAndGlyphs">DEL</text>
<text transform="translate(127.2,295.3) rotate(-90)" font-size="8.3" text-anchor="middle" textLength="50.4" lengthAdjust="spacingAndGlyphs">Fold change MFI</text>
<text transform="translate(137.2,295.3) rotate(-90)" font-size="8.3" text-anchor="middle" textLength="36.4" lengthAdjust="spacingAndGlyphs">MitoTracker</text>
<line x1="259.5" y1="250.8" x2="259.5" y2="330" stroke="#262626" stroke-width="1.15"/>
<line x1="259" y1="329.5" x2="312.3" y2="329.5" stroke="#262626" stroke-width="1.15"/>
<line x1="255.9" y1="328.7" x2="259.4" y2="328.7" stroke="#262626" stroke-width="0.9"/>
<text x="253.6" y="331.1" font-size="6.7" text-anchor="end" textLength="3.43" lengthAdjust="spacingAndGlyphs">0</text>
<line x1="255.9" y1="316.13" x2="259.4" y2="316.13" stroke="#262626" stroke-width="0.9"/>
<text x="253.6" y="318.53" font-size="6.7" text-anchor="end" textLength="8.57" lengthAdjust="spacingAndGlyphs">0.5</text>
<line x1="255.9" y1="303.57" x2="259.4" y2="303.57" stroke="#262626" stroke-width="0.9"/>
<text x="253.6" y="305.97" font-size="6.7" text-anchor="end" textLength="8.57" lengthAdjust="spacingAndGlyphs">1.0</text>
<line x1="255.9" y1="291" x2="259.4" y2="291" stroke="#262626" stroke-width="0.9"/>
<text x="253.6" y="293.4" font-size="6.7" text-anchor="end" textLength="8.57" lengthAdjust="spacingAndGlyphs">1.5</text>
<line x1="255.9" y1="278.43" x2="259.4" y2="278.43" stroke="#262626" stroke-width="0.9"/>
<text x="253.6" y="280.83" font-size="6.7" text-anchor="end" textLength="8.57" lengthAdjust="spacingAndGlyphs">2.0</text>
<line x1="255.9" y1="265.87" x2="259.4" y2="265.87" stroke="#262626" stroke-width="0.9"/>
<text x="253.6" y="268.27" font-size="6.7" text-anchor="end" textLength="8.57" lengthAdjust="spacingAndGlyphs">2.5</text>
<line x1="255.9" y1="253.3" x2="259.4" y2="253.3" stroke="#262626" stroke-width="0.9"/>
<text x="253.6" y="255.7" font-size="6.7" text-anchor="end" textLength="8.57" lengthAdjust="spacingAndGlyphs">3.0</text>
<line x1="259.5" y1="329.5" x2="259.5" y2="332.3" stroke="#262626" stroke-width="1"/>
<line x1="285.5" y1="329.5" x2="285.5" y2="332.3" stroke="#262626" stroke-width="1"/>
<line x1="311.5" y1="329.5" x2="311.5" y2="332.3" stroke="#262626" stroke-width="1"/>
<rect x="266.3" y="294" width="11.5" height="35.2" fill="#0e6a4c"/>
<rect x="292.4" y="268.3" width="11.4" height="60.9" fill="#0e6a4c"/>
<line x1="260" y1="303.5" x2="309.8" y2="303.5" stroke="#505050" stroke-width="1" stroke-dasharray="1 1"/>
<line x1="272.05" y1="292.3" x2="272.05" y2="296" stroke="#151515" stroke-width="1.1"/>
<line x1="270.45" y1="292.3" x2="273.65" y2="292.3" stroke="#151515" stroke-width="1.1"/>
<line x1="270.45" y1="296" x2="273.65" y2="296" stroke="#151515" stroke-width="1"/>
<line x1="298.1" y1="263" x2="298.1" y2="273.4" stroke="#151515" stroke-width="1.1"/>
<line x1="296.5" y1="263" x2="299.7" y2="263" stroke="#151515" stroke-width="1.1"/>
<line x1="296.5" y1="273.4" x2="299.7" y2="273.4" stroke="#151515" stroke-width="1"/>
<circle cx="271.9" cy="286.5" r="0.95" fill="#222"/>
<circle cx="296.38" cy="257.3" r="0.95" fill="#222"/>
<circle cx="299.42" cy="257.3" r="0.95" fill="#222"/>
<text x="271.6" y="340.8" font-size="6.5" text-anchor="middle" textLength="7" lengthAdjust="spacingAndGlyphs">ST</text>
<text x="297.8" y="340.8" font-size="6.5" text-anchor="middle" textLength="12" lengthAdjust="spacingAndGlyphs">DEL</text>
<text transform="translate(227.8,289.6) rotate(-90)" font-size="8.3" text-anchor="middle" textLength="50.4" lengthAdjust="spacingAndGlyphs">Fold change MFI</text>
<text transform="translate(238.8,289.6) rotate(-90)" font-size="8.3" text-anchor="middle" textLength="35.7" lengthAdjust="spacingAndGlyphs">MitoTracker</text>
<line x1="159.5" y1="383.2" x2="159.5" y2="444" stroke="#262626" stroke-width="1.15"/>
<line x1="159" y1="443.5" x2="209.7" y2="443.5" stroke="#262626" stroke-width="1.15"/>
<line x1="155.9" y1="442.5" x2="159.4" y2="442.5" stroke="#262626" stroke-width="0.9"/>
<text x="153.1" y="444.9" font-size="6.7" text-anchor="end" textLength="3.43" lengthAdjust="spacingAndGlyphs">0</text>
<line x1="155.9" y1="432.95" x2="159.4" y2="432.95" stroke="#262626" stroke-width="0.9"/>
<text x="153.1" y="435.35" font-size="6.7" text-anchor="end" textLength="8.57" lengthAdjust="spacingAndGlyphs">0.2</text>
<line x1="155.9" y1="423.4" x2="159.4" y2="423.4" stroke="#262626" stroke-width="0.9"/>
<text x="153.1" y="425.8" font-size="6.7" text-anchor="end" textLength="8.57" lengthAdjust="spacingAndGlyphs">0.4</text>
<line x1="155.9" y1="413.85" x2="159.4" y2="413.85" stroke="#262626" stroke-width="0.9"/>
<text x="153.1" y="416.25" font-size="6.7" text-anchor="end" textLength="8.57" lengthAdjust="spacingAndGlyphs">0.6</text>
<line x1="155.9" y1="404.3" x2="159.4" y2="404.3" stroke="#262626" stroke-width="0.9"/>
<text x="153.1" y="406.7" font-size="6.7" text-anchor="end" textLength="8.57" lengthAdjust="spacingAndGlyphs">0.8</text>
<line x1="155.9" y1="394.75" x2="159.4" y2="394.75" stroke="#262626" stroke-width="0.9"/>
<text x="153.1" y="397.15" font-size="6.7" text-anchor="end" textLength="8.57" lengthAdjust="spacingAndGlyphs">1.0</text>
<line x1="155.9" y1="385.2" x2="159.4" y2="385.2" stroke="#262626" stroke-width="0.9"/>
<text x="153.1" y="387.6" font-size="6.7" text-anchor="end" textLength="8.57" lengthAdjust="spacingAndGlyphs">1.2</text>
<line x1="159.5" y1="443.5" x2="159.5" y2="446.3" stroke="#262626" stroke-width="1"/>
<line x1="184.5" y1="443.5" x2="184.5" y2="446.3" stroke="#262626" stroke-width="1"/>
<line x1="209.5" y1="443.5" x2="209.5" y2="446.3" stroke="#262626" stroke-width="1"/>
<rect x="166.9" y="425" width="11.2" height="18" fill="#2aa3df"/>
<rect x="191.1" y="395.2" width="11.1" height="47.8" fill="#2aa3df"/>
<line x1="160" y1="395.5" x2="209" y2="395.5" stroke="#505050" stroke-width="1" stroke-dasharray="1 1"/>
<line x1="172.5" y1="422.5" x2="172.5" y2="427.5" stroke="#151515" stroke-width="1.1"/>
<line x1="170.9" y1="422.5" x2="174.1" y2="422.5" stroke="#151515" stroke-width="1.1"/>
<line x1="170.9" y1="427.5" x2="174.1" y2="427.5" stroke="#151515" stroke-width="1"/>
<line x1="196.65" y1="392.6" x2="196.65" y2="397.8" stroke="#151515" stroke-width="1.1"/>
<line x1="195.05" y1="392.6" x2="198.25" y2="392.6" stroke="#151515" stroke-width="1.1"/>
<line x1="195.05" y1="397.8" x2="198.25" y2="397.8" stroke="#151515" stroke-width="1"/>
<circle cx="169.25" cy="417.6" r="0.95" fill="#222"/>
<circle cx="172.3" cy="417.6" r="0.95" fill="#222"/>
<circle cx="175.35" cy="417.6" r="0.95" fill="#222"/>
<text x="171.6" y="454.6" font-size="6.5" text-anchor="middle" textLength="7" lengthAdjust="spacingAndGlyphs">ST</text>
<text x="196.8" y="454.6" font-size="6.5" text-anchor="middle" textLength="12" lengthAdjust="spacingAndGlyphs">DEL</text>
<text transform="translate(128.1,412.5) rotate(-90)" font-size="8.3" text-anchor="middle" textLength="50.4" lengthAdjust="spacingAndGlyphs">Fold change MFI</text>
<text transform="translate(137.9,412.5) rotate(-90)" font-size="8.3" text-anchor="middle" textLength="25" lengthAdjust="spacingAndGlyphs">2-NBDG</text>
<line x1="259.5" y1="365.9" x2="259.5" y2="444" stroke="#262626" stroke-width="1.15"/>
<line x1="259" y1="443.5" x2="311" y2="443.5" stroke="#262626" stroke-width="1.15"/>
<line x1="255.9" y1="443" x2="259.4" y2="443" stroke="#262626" stroke-width="0.9"/>
<text x="253.6" y="445.4" font-size="6.7" text-anchor="end" textLength="3.43" lengthAdjust="spacingAndGlyphs">0</text>
<line x1="255.9" y1="434.71" x2="259.4" y2="434.71" stroke="#262626" stroke-width="0.9"/>
<text x="253.6" y="437.11" font-size="6.7" text-anchor="end" textLength="8.57" lengthAdjust="spacingAndGlyphs">0.2</text>
<line x1="255.9" y1="426.42" x2="259.4" y2="426.42" stroke="#262626" stroke-width="0.9"/>
<text x="253.6" y="428.82" font-size="6.7" text-anchor="end" textLength="8.57" lengthAdjust="spacingAndGlyphs">0.4</text>
<line x1="255.9" y1="418.13" x2="259.4" y2="418.13" stroke="#262626" stroke-width="0.9"/>
<text x="253.6" y="420.53" font-size="6.7" text-anchor="end" textLength="8.57" lengthAdjust="spacingAndGlyphs">0.6</text>
<line x1="255.9" y1="409.84" x2="259.4" y2="409.84" stroke="#262626" stroke-width="0.9"/>
<text x="253.6" y="412.24" font-size="6.7" text-anchor="end" textLength="8.57" lengthAdjust="spacingAndGlyphs">0.8</text>
<line x1="255.9" y1="401.56" x2="259.4" y2="401.56" stroke="#262626" stroke-width="0.9"/>
<text x="253.6" y="403.96" font-size="6.7" text-anchor="end" textLength="8.57" lengthAdjust="spacingAndGlyphs">1.0</text>
<line x1="255.9" y1="393.27" x2="259.4" y2="393.27" stroke="#262626" stroke-width="0.9"/>
<text x="253.6" y="395.67" font-size="6.7" text-anchor="end" textLength="8.57" lengthAdjust="spacingAndGlyphs">1.2</text>
<line x1="255.9" y1="384.98" x2="259.4" y2="384.98" stroke="#262626" stroke-width="0.9"/>
<text x="253.6" y="387.38" font-size="6.7" text-anchor="end" textLength="8.57" lengthAdjust="spacingAndGlyphs">1.4</text>
<line x1="255.9" y1="376.69" x2="259.4" y2="376.69" stroke="#262626" stroke-width="0.9"/>
<text x="253.6" y="379.09" font-size="6.7" text-anchor="end" textLength="8.57" lengthAdjust="spacingAndGlyphs">1.6</text>
<line x1="255.9" y1="368.4" x2="259.4" y2="368.4" stroke="#262626" stroke-width="0.9"/>
<text x="253.6" y="370.8" font-size="6.7" text-anchor="end" textLength="8.57" lengthAdjust="spacingAndGlyphs">1.8</text>
<line x1="259.5" y1="443.5" x2="259.5" y2="446.3" stroke="#262626" stroke-width="1"/>
<line x1="285.5" y1="443.5" x2="285.5" y2="446.3" stroke="#262626" stroke-width="1"/>
<line x1="310.5" y1="443.5" x2="310.5" y2="446.3" stroke="#262626" stroke-width="1"/>
<rect x="268.1" y="404.8" width="11" height="38.2" fill="#0e6a4c"/>
<rect x="292.1" y="379.8" width="10.7" height="63.2" fill="#0e6a4c"/>
<line x1="260" y1="401.5" x2="309.8" y2="401.5" stroke="#505050" stroke-width="1" stroke-dasharray="1 1"/>
<line x1="273.6" y1="404.2" x2="273.6" y2="405.4" stroke="#151515" stroke-width="1.1"/>
<line x1="272" y1="404.2" x2="275.2" y2="404.2" stroke="#151515" stroke-width="1.1"/>
<line x1="272" y1="405.4" x2="275.2" y2="405.4" stroke="#151515" stroke-width="1"/>
<line x1="297.45" y1="371.9" x2="297.45" y2="387" stroke="#151515" stroke-width="1.1"/>
<line x1="295.85" y1="371.9" x2="299.05" y2="371.9" stroke="#151515" stroke-width="1.1"/>
<line x1="295.85" y1="387" x2="299.05" y2="387" stroke="#151515" stroke-width="1"/>
<circle cx="273.5" cy="396.1" r="0.95" fill="#222"/>
<text x="273" y="454.6" font-size="6.5" text-anchor="middle" textLength="7" lengthAdjust="spacingAndGlyphs">ST</text>
<text x="297.5" y="454.6" font-size="6.5" text-anchor="middle" textLength="12" lengthAdjust="spacingAndGlyphs">DEL</text>
<text transform="translate(227.8,404.2) rotate(-90)" font-size="8.3" text-anchor="middle" textLength="50.4" lengthAdjust="spacingAndGlyphs">Fold change MFI</text>
<text transform="translate(238.5,404.2) rotate(-90)" font-size="8.3" text-anchor="middle" textLength="25" lengthAdjust="spacingAndGlyphs">2-NBDG</text>
<text transform="translate(338.45,17) scale(0.89,1)" font-size="12.6" font-weight="bold" fill="#111" style="stroke:#111;stroke-width:0.4px">E</text>
<text x="340.2" y="35.9" font-size="6.6" textLength="25.8" lengthAdjust="spacingAndGlyphs" fill="#444">GW4869</text>
<line x1="340.2" y1="36.7" x2="366" y2="36.7" stroke="#666" stroke-width="0.6"/>
<line x1="341.6" y1="43.2" x2="344.1" y2="43.2" stroke="#555" stroke-width="0.8"/>
<text x="359.8" y="43.6" font-size="6" text-anchor="middle" fill="#444">+</text>
<rect x="337.1" y="47.8" width="31.3" height="8.9" fill="#eef4fa" stroke="#3a3a3a" stroke-width="0.9"/>
<rect x="340.2" y="51.2" width="1.8" height="1.2" fill="#2a2a3a"/>
<rect x="342.8" y="51.3" width="2.6" height="1.1" fill="#3a3a4a"/>
<rect x="352.6" y="50.2" width="3.3" height="2.5" fill="#111820"/>
<rect x="355.9" y="51" width="8.9" height="1.7" fill="#1a2028"/>
<rect x="337.1" y="57.9" width="31.3" height="13.7" fill="#f4f5f6" stroke="#3a3a3a" stroke-width="0.9"/>
<path d="M338.7,65 C339,63.5 340,62.3 341.5,62.5 L350,62.6 C351,62.5 352,61.8 352.8,62 L353,67.4 L346,67.6 C343,67.7 340.5,67.6 339.5,67 Z" fill="#080808"/>
<path d="M353.6,61 C353.8,59.2 355.6,59 356,60.5 L356.3,62 L362,62.1 L365.5,61.3 C366.5,61.2 366.8,62 366.8,63 L366.6,66.8 C366,67.6 364,67.9 362,67.9 L357,68.6 C355.5,69 354,68.8 353.7,68 Z" fill="#080808"/>
<defs><linearGradient id="tp" x1="0" x2="1" y1="0" y2="0"><stop offset="0" stop-color="#8a8a8a"/><stop offset="0.04" stop-color="#cfcfcf"/><stop offset="0.09" stop-color="#a9a9a9"/><stop offset="0.25" stop-color="#bababa"/><stop offset="0.4" stop-color="#b2b2b2"/><stop offset="0.47" stop-color="#a2a2a2"/><stop offset="0.5" stop-color="#e2e2e2"/><stop offset="0.55" stop-color="#e0e0e0"/><stop offset="0.58" stop-color="#a9a9a9"/><stop offset="0.72" stop-color="#bebebe"/><stop offset="0.9" stop-color="#b2b2b2"/><stop offset="0.97" stop-color="#a2a2a2"/><stop offset="1" stop-color="#8a8a8a"/></linearGradient><linearGradient id="tpv" x1="0" x2="0" y1="0" y2="1"><stop offset="0" stop-color="#555" stop-opacity="0.45"/><stop offset="0.08" stop-color="#777" stop-opacity="0.15"/><stop offset="0.2" stop-color="#fff" stop-opacity="0"/><stop offset="0.85" stop-color="#fff" stop-opacity="0"/><stop offset="1" stop-color="#fff" stop-opacity="0.25"/></linearGradient></defs>
<rect x="336.9" y="73.4" width="31.8" height="26.9" fill="url(#tp)" stroke="#5a5a5a" stroke-width="0.9"/>
<rect x="337.35" y="73.85" width="30.9" height="26" fill="url(#tpv)"/>
<text x="371.9" y="54.1" font-size="6.5" textLength="43.8" lengthAdjust="spacingAndGlyphs" fill="#333">phospho-eIF2&#945;</text>
<text x="371.9" y="67.5" font-size="6.5" textLength="14.8" lengthAdjust="spacingAndGlyphs" fill="#333">ATF4</text>
<text x="371.9" y="89" font-size="6.5" textLength="37.2" lengthAdjust="spacingAndGlyphs" fill="#333">Total protein</text>
<text transform="translate(432.08,17.1) scale(0.97,1)" font-size="12.6" font-weight="bold" fill="#111" style="stroke:#111;stroke-width:0.4px">F</text>
<line x1="458.5" y1="27.5" x2="458.5" y2="100" stroke="#262626" stroke-width="1.15"/>
<line x1="458" y1="99.5" x2="506.5" y2="99.5" stroke="#262626" stroke-width="1.15"/>
<line x1="455.2" y1="99.2" x2="458.7" y2="99.2" stroke="#262626" stroke-width="0.9"/>
<text x="453.1" y="101.6" font-size="6.7" text-anchor="end" textLength="3.43" lengthAdjust="spacingAndGlyphs">0</text>
<line x1="455.2" y1="91.43" x2="458.7" y2="91.43" stroke="#262626" stroke-width="0.9"/>
<text x="453.1" y="93.83" font-size="6.7" text-anchor="end" textLength="8.57" lengthAdjust="spacingAndGlyphs">0.5</text>
<line x1="455.2" y1="83.67" x2="458.7" y2="83.67" stroke="#262626" stroke-width="0.9"/>
<text x="453.1" y="86.07" font-size="6.7" text-anchor="end" textLength="8.57" lengthAdjust="spacingAndGlyphs">1.0</text>
<line x1="455.2" y1="75.9" x2="458.7" y2="75.9" stroke="#262626" stroke-width="0.9"/>
<text x="453.1" y="78.3" font-size="6.7" text-anchor="end" textLength="8.57" lengthAdjust="spacingAndGlyphs">1.5</text>
<line x1="455.2" y1="68.13" x2="458.7" y2="68.13" stroke="#262626" stroke-width="0.9"/>
<text x="453.1" y="70.53" font-size="6.7" text-anchor="end" textLength="8.57" lengthAdjust="spacingAndGlyphs">2.0</text>
<line x1="455.2" y1="60.37" x2="458.7" y2="60.37" stroke="#262626" stroke-width="0.9"/>
<text x="453.1" y="62.77" font-size="6.7" text-anchor="end" textLength="8.57" lengthAdjust="spacingAndGlyphs">2.5</text>
<line x1="455.2" y1="52.6" x2="458.7" y2="52.6" stroke="#262626" stroke-width="0.9"/>
<text x="453.1" y="55" font-size="6.7" text-anchor="end" textLength="8.57" lengthAdjust="spacingAndGlyphs">3.0</text>
<line x1="455.2" y1="44.83" x2="458.7" y2="44.83" stroke="#262626" stroke-width="0.9"/>
<text x="453.1" y="47.23" font-size="6.7" text-anchor="end" textLength="8.57" lengthAdjust="spacingAndGlyphs">3.5</text>
<line x1="455.2" y1="37.07" x2="458.7" y2="37.07" stroke="#262626" stroke-width="0.9"/>
<text x="453.1" y="39.47" font-size="6.7" text-anchor="end" textLength="8.57" lengthAdjust="spacingAndGlyphs">4.0</text>
<line x1="455.2" y1="29.3" x2="458.7" y2="29.3" stroke="#262626" stroke-width="0.9"/>
<text x="453.1" y="31.7" font-size="6.7" text-anchor="end" textLength="8.57" lengthAdjust="spacingAndGlyphs">4.5</text>
<line x1="459.5" y1="99.5" x2="459.5" y2="102.3" stroke="#262626" stroke-width="1"/>
<line x1="481.5" y1="99.5" x2="481.5" y2="102.3" stroke="#262626" stroke-width="1"/>
<line x1="504.5" y1="99.5" x2="504.5" y2="102.3" stroke="#262626" stroke-width="1"/>
<rect x="464.1" y="79" width="11.9" height="20.3" fill="#3bab3a"/>
<rect x="487.1" y="46.2" width="11.6" height="53.1" fill="#0f4b86"/>
<line x1="459" y1="84.5" x2="506.2" y2="84.5" stroke="#505050" stroke-width="1" stroke-dasharray="1 1"/>
<line x1="470.05" y1="77.5" x2="470.05" y2="80.5" stroke="#151515" stroke-width="1.1"/>
<line x1="468.45" y1="77.5" x2="471.65" y2="77.5" stroke="#151515" stroke-width="1.1"/>
<line x1="468.45" y1="80.5" x2="471.65" y2="80.5" stroke="#151515" stroke-width="1"/>
<line x1="492.9" y1="34.4" x2="492.9" y2="57.6" stroke="#151515" stroke-width="1.1"/>
<line x1="491.3" y1="34.4" x2="494.5" y2="34.4" stroke="#151515" stroke-width="1.1"/>
<line x1="491.3" y1="57.6" x2="494.5" y2="57.6" stroke="#151515" stroke-width="1"/>
<circle cx="468.18" cy="73.9" r="0.95" fill="#222"/>
<circle cx="471.22" cy="73.9" r="0.95" fill="#222"/>
<circle cx="493.2" cy="29.5" r="0.95" fill="#222"/>
<text x="469.9" y="110.8" font-size="6.5" text-anchor="middle">p-eIF2&#945;</text>
<text x="493.3" y="110.8" font-size="6.5" text-anchor="middle">ATF4</text>
<text transform="translate(439.2,60) rotate(-90)" font-size="8.3" text-anchor="middle" textLength="66" lengthAdjust="spacingAndGlyphs">Relative band intensity</text>
<text transform="translate(336.8,129.3) scale(0.94,1)" font-size="12.6" font-weight="bold" fill="#111" style="stroke:#111;stroke-width:0.4px">G</text>
<text x="392.8" y="135.7" font-size="6.8" text-anchor="middle" font-style="italic" fill="#333">Atf4</text>
<line x1="365.5" y1="140.1" x2="365.5" y2="215" stroke="#262626" stroke-width="1.15"/>
<line x1="365" y1="214.5" x2="418.9" y2="214.5" stroke="#262626" stroke-width="1.15"/>
<line x1="361.9" y1="214.7" x2="365.4" y2="214.7" stroke="#262626" stroke-width="0.9"/>
<text x="359.1" y="217.1" font-size="6.7" text-anchor="end" textLength="3.43" lengthAdjust="spacingAndGlyphs">0</text>
<line x1="361.9" y1="200.16" x2="365.4" y2="200.16" stroke="#262626" stroke-width="0.9"/>
<text x="359.1" y="202.56" font-size="6.7" text-anchor="end" textLength="8.57" lengthAdjust="spacingAndGlyphs">0.5</text>
<line x1="361.9" y1="185.62" x2="365.4" y2="185.62" stroke="#262626" stroke-width="0.9"/>
<text x="359.1" y="188.02" font-size="6.7" text-anchor="end" textLength="8.57" lengthAdjust="spacingAndGlyphs">1.0</text>
<line x1="361.9" y1="171.08" x2="365.4" y2="171.08" stroke="#262626" stroke-width="0.9"/>
<text x="359.1" y="173.48" font-size="6.7" text-anchor="end" textLength="8.57" lengthAdjust="spacingAndGlyphs">1.5</text>
<line x1="361.9" y1="156.54" x2="365.4" y2="156.54" stroke="#262626" stroke-width="0.9"/>
<text x="359.1" y="158.94" font-size="6.7" text-anchor="end" textLength="8.57" lengthAdjust="spacingAndGlyphs">2.0</text>
<line x1="361.9" y1="142" x2="365.4" y2="142" stroke="#262626" stroke-width="0.9"/>
<text x="359.1" y="144.4" font-size="6.7" text-anchor="end" textLength="8.57" lengthAdjust="spacingAndGlyphs">2.5</text>
<line x1="365.5" y1="214.5" x2="365.5" y2="217.3" stroke="#262626" stroke-width="1"/>
<line x1="391.5" y1="214.5" x2="391.5" y2="217.3" stroke="#262626" stroke-width="1"/>
<line x1="418.5" y1="214.5" x2="418.5" y2="217.3" stroke="#262626" stroke-width="1"/>
<rect x="372.9" y="153.3" width="11.2" height="61.5" fill="#0f4b86"/>
<rect x="398.5" y="174.9" width="11.2" height="39.9" fill="#0f4b86"/>
<line x1="366" y1="185.5" x2="415" y2="185.5" stroke="#505050" stroke-width="1" stroke-dasharray="1 1"/>
<line x1="378.5" y1="148" x2="378.5" y2="157.9" stroke="#151515" stroke-width="1.1"/>
<line x1="376.9" y1="148" x2="380.1" y2="148" stroke="#151515" stroke-width="1.1"/>
<line x1="376.9" y1="157.9" x2="380.1" y2="157.9" stroke="#151515" stroke-width="1"/>
<line x1="404.1" y1="169.4" x2="404.1" y2="180.4" stroke="#151515" stroke-width="1.1"/>
<line x1="402.5" y1="169.4" x2="405.7" y2="169.4" stroke="#151515" stroke-width="1.1"/>
<line x1="402.5" y1="180.4" x2="405.7" y2="180.4" stroke="#151515" stroke-width="1"/>
<circle cx="374.95" cy="142.9" r="0.95" fill="#222"/>
<circle cx="378" cy="142.9" r="0.95" fill="#222"/>
<circle cx="381.05" cy="142.9" r="0.95" fill="#222"/>
<text x="378.7" y="225.6" font-size="6.5" text-anchor="middle" textLength="7" lengthAdjust="spacingAndGlyphs">ST</text>
<text x="404.3" y="225.6" font-size="6.5" text-anchor="middle" textLength="12" lengthAdjust="spacingAndGlyphs">DEL</text>
<text transform="translate(345.8,176) rotate(-90)" font-size="8.3" text-anchor="middle" textLength="78.5" lengthAdjust="spacingAndGlyphs">Relative gene expression</text>
<text transform="translate(430.32,129.1) scale(1.04,1)" font-size="12.6" font-weight="bold" fill="#111" style="stroke:#111;stroke-width:0.4px">H</text>
<text x="486" y="135.8" font-size="6.6" text-anchor="middle" font-style="italic" fill="#333">Chop</text>
<line x1="458.5" y1="140.1" x2="458.5" y2="215" stroke="#262626" stroke-width="1.15"/>
<line x1="458" y1="214.5" x2="511.3" y2="214.5" stroke="#262626" stroke-width="1.15"/>
<line x1="454.6" y1="214.7" x2="458.1" y2="214.7" stroke="#262626" stroke-width="0.9"/>
<text x="453" y="217.1" font-size="6.7" text-anchor="end" textLength="3.43" lengthAdjust="spacingAndGlyphs">0</text>
<line x1="454.6" y1="204.34" x2="458.1" y2="204.34" stroke="#262626" stroke-width="0.9"/>
<text x="453" y="206.74" font-size="6.7" text-anchor="end" textLength="8.57" lengthAdjust="spacingAndGlyphs">0.5</text>
<line x1="454.6" y1="193.99" x2="458.1" y2="193.99" stroke="#262626" stroke-width="0.9"/>
<text x="453" y="196.39" font-size="6.7" text-anchor="end" textLength="8.57" lengthAdjust="spacingAndGlyphs">1.0</text>
<line x1="454.6" y1="183.63" x2="458.1" y2="183.63" stroke="#262626" stroke-width="0.9"/>
<text x="453" y="186.03" font-size="6.7" text-anchor="end" textLength="8.57" lengthAdjust="spacingAndGlyphs">1.5</text>
<line x1="454.6" y1="173.27" x2="458.1" y2="173.27" stroke="#262626" stroke-width="0.9"/>
<text x="453" y="175.67" font-size="6.7" text-anchor="end" textLength="8.57" lengthAdjust="spacingAndGlyphs">2.0</text>
<line x1="454.6" y1="162.91" x2="458.1" y2="162.91" stroke="#262626" stroke-width="0.9"/>
<text x="453" y="165.31" font-size="6.7" text-anchor="end" textLength="8.57" lengthAdjust="spacingAndGlyphs">2.5</text>
<line x1="454.6" y1="152.56" x2="458.1" y2="152.56" stroke="#262626" stroke-width="0.9"/>
<text x="453" y="154.96" font-size="6.7" text-anchor="end" textLength="8.57" lengthAdjust="spacingAndGlyphs">3.0</text>
<line x1="454.6" y1="142.2" x2="458.1" y2="142.2" stroke="#262626" stroke-width="0.9"/>
<text x="453" y="144.6" font-size="6.7" text-anchor="end" textLength="8.57" lengthAdjust="spacingAndGlyphs">3.5</text>
<line x1="458.5" y1="214.5" x2="458.5" y2="217.3" stroke="#262626" stroke-width="1"/>
<line x1="484.5" y1="214.5" x2="484.5" y2="217.3" stroke="#262626" stroke-width="1"/>
<line x1="511.5" y1="214.5" x2="511.5" y2="217.3" stroke="#262626" stroke-width="1"/>
<rect x="465.7" y="155.9" width="11.2" height="58.9" fill="#0f4b86"/>
<rect x="491.3" y="184.9" width="11.4" height="29.9" fill="#0f4b86"/>
<line x1="459" y1="193.5" x2="507.3" y2="193.5" stroke="#505050" stroke-width="1" stroke-dasharray="1 1"/>
<line x1="471.3" y1="150.4" x2="471.3" y2="161.7" stroke="#151515" stroke-width="1.1"/>
<line x1="469.7" y1="150.4" x2="472.9" y2="150.4" stroke="#151515" stroke-width="1.1"/>
<line x1="469.7" y1="161.7" x2="472.9" y2="161.7" stroke="#151515" stroke-width="1"/>
<line x1="497" y1="180.6" x2="497" y2="189.4" stroke="#151515" stroke-width="1.1"/>
<line x1="495.4" y1="180.6" x2="498.6" y2="180.6" stroke="#151515" stroke-width="1.1"/>
<line x1="495.4" y1="189.4" x2="498.6" y2="189.4" stroke="#151515" stroke-width="1"/>
<circle cx="467.95" cy="144.8" r="0.95" fill="#222"/>
<circle cx="471" cy="144.8" r="0.95" fill="#222"/>
<circle cx="474.05" cy="144.8" r="0.95" fill="#222"/>
<text x="471.3" y="225.6" font-size="6.5" text-anchor="middle" textLength="7" lengthAdjust="spacingAndGlyphs">ST</text>
<text x="496.5" y="225.6" font-size="6.5" text-anchor="middle" textLength="12" lengthAdjust="spacingAndGlyphs">DEL</text>
<text transform="translate(438.9,176.5) rotate(-90)" font-size="8.3" text-anchor="middle" textLength="78" lengthAdjust="spacingAndGlyphs">Relative gene expression</text>
<text transform="translate(402.2,250.7) scale(1,1)" font-size="12.6" font-weight="bold" fill="#111" style="stroke:#111;stroke-width:0.4px">I</text>
<text x="438.5" y="257.8" font-size="6.8" text-anchor="middle" font-style="italic" fill="#333">Redd1</text>
<line x1="424.5" y1="263.5" x2="424.5" y2="335" stroke="#262626" stroke-width="1.15"/>
<line x1="424" y1="334.5" x2="451" y2="334.5" stroke="#262626" stroke-width="1.15"/>
<line x1="421" y1="334.2" x2="424.5" y2="334.2" stroke="#262626" stroke-width="0.9"/>
<text x="419.9" y="336.6" font-size="6.7" text-anchor="end" textLength="8.57" lengthAdjust="spacingAndGlyphs">0.0</text>
<line x1="421" y1="320.56" x2="424.5" y2="320.56" stroke="#262626" stroke-width="0.9"/>
<text x="419.9" y="322.96" font-size="6.7" text-anchor="end" textLength="8.57" lengthAdjust="spacingAndGlyphs">0.4</text>
<line x1="421" y1="306.92" x2="424.5" y2="306.92" stroke="#262626" stroke-width="0.9"/>
<text x="419.9" y="309.32" font-size="6.7" text-anchor="end" textLength="8.57" lengthAdjust="spacingAndGlyphs">0.8</text>
<line x1="421" y1="293.28" x2="424.5" y2="293.28" stroke="#262626" stroke-width="0.9"/>
<text x="419.9" y="295.68" font-size="6.7" text-anchor="end" textLength="8.57" lengthAdjust="spacingAndGlyphs">1.2</text>
<line x1="421" y1="279.64" x2="424.5" y2="279.64" stroke="#262626" stroke-width="0.9"/>
<text x="419.9" y="282.04" font-size="6.7" text-anchor="end" textLength="8.57" lengthAdjust="spacingAndGlyphs">1.6</text>
<line x1="421" y1="266" x2="424.5" y2="266" stroke="#262626" stroke-width="0.9"/>
<text x="419.9" y="268.4" font-size="6.7" text-anchor="end" textLength="8.57" lengthAdjust="spacingAndGlyphs">2.0</text>
<line x1="424.5" y1="334.5" x2="424.5" y2="337.3" stroke="#262626" stroke-width="1"/>
<line x1="450.5" y1="334.5" x2="450.5" y2="337.3" stroke="#262626" stroke-width="1"/>
<rect x="431.4" y="282.7" width="11.4" height="51.7" fill="#0f4b86"/>
<line x1="425" y1="300.5" x2="447.6" y2="300.5" stroke="#505050" stroke-width="1" stroke-dasharray="1 1"/>
<line x1="437.1" y1="277.7" x2="437.1" y2="287.5" stroke="#151515" stroke-width="1.1"/>
<line x1="435.5" y1="277.7" x2="438.7" y2="277.7" stroke="#151515" stroke-width="1.1"/>
<line x1="435.5" y1="287.5" x2="438.7" y2="287.5" stroke="#151515" stroke-width="1"/>
<circle cx="438" cy="272" r="0.95" fill="#222"/>
<text x="438" y="346" font-size="6.5" text-anchor="middle" textLength="7" lengthAdjust="spacingAndGlyphs">ST</text>
<text transform="translate(404.1,299) rotate(-90)" font-size="8.3" text-anchor="middle" textLength="76.4" lengthAdjust="spacingAndGlyphs">Relative gene expression</text>
<text transform="translate(339.72,367.9) scale(0.92,1)" font-size="12.6" font-weight="bold" fill="#111" style="stroke:#111;stroke-width:0.4px">J</text>
<text x="425" y="371.6" font-size="6.6" text-anchor="middle" font-style="italic" fill="#333">Atf4</text>
<line x1="364.5" y1="376.4" x2="364.5" y2="461" stroke="#262626" stroke-width="1.15"/>
<line x1="364" y1="460.5" x2="501.9" y2="460.5" stroke="#262626" stroke-width="1.15"/>
<line x1="361" y1="460.1" x2="364.5" y2="460.1" stroke="#262626" stroke-width="0.9"/>
<text x="359.3" y="462.5" font-size="6.7" text-anchor="end" textLength="8.57" lengthAdjust="spacingAndGlyphs">0.0</text>
<line x1="361" y1="446.4" x2="364.5" y2="446.4" stroke="#262626" stroke-width="0.9"/>
<text x="359.3" y="448.8" font-size="6.7" text-anchor="end" textLength="8.57" lengthAdjust="spacingAndGlyphs">0.5</text>
<line x1="361" y1="432.7" x2="364.5" y2="432.7" stroke="#262626" stroke-width="0.9"/>
<text x="359.3" y="435.1" font-size="6.7" text-anchor="end" textLength="8.57" lengthAdjust="spacingAndGlyphs">1.0</text>
<line x1="361" y1="419" x2="364.5" y2="419" stroke="#262626" stroke-width="0.9"/>
<text x="359.3" y="421.4" font-size="6.7" text-anchor="end" textLength="8.57" lengthAdjust="spacingAndGlyphs">1.5</text>
<line x1="361" y1="405.3" x2="364.5" y2="405.3" stroke="#262626" stroke-width="0.9"/>
<text x="359.3" y="407.7" font-size="6.7" text-anchor="end" textLength="8.57" lengthAdjust="spacingAndGlyphs">2.0</text>
<line x1="361" y1="391.6" x2="364.5" y2="391.6" stroke="#262626" stroke-width="0.9"/>
<text x="359.3" y="394" font-size="6.7" text-anchor="end" textLength="8.57" lengthAdjust="spacingAndGlyphs">2.5</text>
<line x1="361" y1="377.9" x2="364.5" y2="377.9" stroke="#262626" stroke-width="0.9"/>
<text x="359.3" y="380.3" font-size="6.7" text-anchor="end" textLength="8.57" lengthAdjust="spacingAndGlyphs">3.0</text>
<line x1="365.5" y1="460.5" x2="365.5" y2="463.3" stroke="#262626" stroke-width="1"/>
<line x1="384.5" y1="460.5" x2="384.5" y2="463.3" stroke="#262626" stroke-width="1"/>
<line x1="403.5" y1="460.5" x2="403.5" y2="463.3" stroke="#262626" stroke-width="1"/>
<line x1="422.5" y1="460.5" x2="422.5" y2="463.3" stroke="#262626" stroke-width="1"/>
<line x1="441.5" y1="460.5" x2="441.5" y2="463.3" stroke="#262626" stroke-width="1"/>
<line x1="460.5" y1="460.5" x2="460.5" y2="463.3" stroke="#262626" stroke-width="1"/>
<line x1="480.5" y1="460.5" x2="480.5" y2="463.3" stroke="#262626" stroke-width="1"/>
<line x1="499.5" y1="460.5" x2="499.5" y2="463.3" stroke="#262626" stroke-width="1"/>
<rect x="368.1" y="432.7" width="5.8" height="27.4" fill="#3bab3a"/>
<rect x="375.7" y="422.29" width="5.8" height="37.81" fill="#0f4b86"/>
<rect x="387.4" y="423.11" width="5.8" height="36.99" fill="#3bab3a"/>
<rect x="395" y="419.82" width="5.8" height="40.28" fill="#0f4b86"/>
<rect x="406.6" y="429.14" width="5.8" height="30.96" fill="#3bab3a"/>
<rect x="414.2" y="408.86" width="5.8" height="51.24" fill="#0f4b86"/>
<rect x="425.7" y="427.77" width="5.8" height="32.33" fill="#3bab3a"/>
<rect x="433.3" y="418.18" width="5.8" height="41.92" fill="#0f4b86"/>
<rect x="445" y="404.48" width="5.8" height="55.62" fill="#3bab3a"/>
<rect x="452.6" y="430.78" width="5.8" height="29.32" fill="#0f4b86"/>
<rect x="464" y="423.11" width="5.8" height="36.99" fill="#3bab3a"/>
<rect x="471.6" y="397.08" width="5.8" height="63.02" fill="#0f4b86"/>
<rect x="483.2" y="431.88" width="5.8" height="28.22" fill="#3bab3a"/>
<rect x="490.8" y="421.47" width="5.8" height="38.63" fill="#0f4b86"/>
<line x1="371" y1="431.88" x2="371" y2="433.52" stroke="#151515" stroke-width="1.1"/>
<line x1="369.4" y1="431.88" x2="372.6" y2="431.88" stroke="#151515" stroke-width="1.1"/>
<line x1="369.4" y1="433.52" x2="372.6" y2="433.52" stroke="#151515" stroke-width="1"/>
<line x1="378.6" y1="418.45" x2="378.6" y2="425.03" stroke="#151515" stroke-width="1.1"/>
<line x1="377" y1="418.45" x2="380.2" y2="418.45" stroke="#151515" stroke-width="1.1"/>
<line x1="377" y1="425.03" x2="380.2" y2="425.03" stroke="#151515" stroke-width="1"/>
<line x1="390.3" y1="417.08" x2="390.3" y2="428.59" stroke="#151515" stroke-width="1.1"/>
<line x1="388.7" y1="417.08" x2="391.9" y2="417.08" stroke="#151515" stroke-width="1.1"/>
<line x1="388.7" y1="428.59" x2="391.9" y2="428.59" stroke="#151515" stroke-width="1"/>
<line x1="397.9" y1="407.49" x2="397.9" y2="431.88" stroke="#151515" stroke-width="1.1"/>
<line x1="396.3" y1="407.49" x2="399.5" y2="407.49" stroke="#151515" stroke-width="1.1"/>
<line x1="396.3" y1="431.88" x2="399.5" y2="431.88" stroke="#151515" stroke-width="1"/>
<line x1="409.5" y1="427.22" x2="409.5" y2="430.78" stroke="#151515" stroke-width="1.1"/>
<line x1="407.9" y1="427.22" x2="411.1" y2="427.22" stroke="#151515" stroke-width="1.1"/>
<line x1="407.9" y1="430.78" x2="411.1" y2="430.78" stroke="#151515" stroke-width="1"/>
<line x1="417.1" y1="397.9" x2="417.1" y2="419" stroke="#151515" stroke-width="1.1"/>
<line x1="415.5" y1="397.9" x2="418.7" y2="397.9" stroke="#151515" stroke-width="1.1"/>
<line x1="415.5" y1="419" x2="418.7" y2="419" stroke="#151515" stroke-width="1"/>
<line x1="428.6" y1="424.21" x2="428.6" y2="431.33" stroke="#151515" stroke-width="1.1"/>
<line x1="427" y1="424.21" x2="430.2" y2="424.21" stroke="#151515" stroke-width="1.1"/>
<line x1="427" y1="431.33" x2="430.2" y2="431.33" stroke="#151515" stroke-width="1"/>
<line x1="436.2" y1="415.44" x2="436.2" y2="420.37" stroke="#151515" stroke-width="1.1"/>
<line x1="434.6" y1="415.44" x2="437.8" y2="415.44" stroke="#151515" stroke-width="1.1"/>
<line x1="434.6" y1="420.37" x2="437.8" y2="420.37" stroke="#151515" stroke-width="1"/>
<line x1="447.9" y1="392.97" x2="447.9" y2="416.26" stroke="#151515" stroke-width="1.1"/>
<line x1="446.3" y1="392.97" x2="449.5" y2="392.97" stroke="#151515" stroke-width="1.1"/>
<line x1="446.3" y1="416.26" x2="449.5" y2="416.26" stroke="#151515" stroke-width="1"/>
<line x1="455.5" y1="428.32" x2="455.5" y2="433.25" stroke="#151515" stroke-width="1.1"/>
<line x1="453.9" y1="428.32" x2="457.1" y2="428.32" stroke="#151515" stroke-width="1.1"/>
<line x1="453.9" y1="433.25" x2="457.1" y2="433.25" stroke="#151515" stroke-width="1"/>
<line x1="466.9" y1="411.33" x2="466.9" y2="434.62" stroke="#151515" stroke-width="1.1"/>
<line x1="465.3" y1="411.33" x2="468.5" y2="411.33" stroke="#151515" stroke-width="1.1"/>
<line x1="465.3" y1="434.62" x2="468.5" y2="434.62" stroke="#151515" stroke-width="1"/>
<line x1="474.5" y1="392.97" x2="474.5" y2="399.82" stroke="#151515" stroke-width="1.1"/>
<line x1="472.9" y1="392.97" x2="476.1" y2="392.97" stroke="#151515" stroke-width="1.1"/>
<line x1="472.9" y1="399.82" x2="476.1" y2="399.82" stroke="#151515" stroke-width="1"/>
<line x1="486.1" y1="429.96" x2="486.1" y2="432.7" stroke="#151515" stroke-width="1.1"/>
<line x1="484.5" y1="429.96" x2="487.7" y2="429.96" stroke="#151515" stroke-width="1.1"/>
<line x1="484.5" y1="432.7" x2="487.7" y2="432.7" stroke="#151515" stroke-width="1"/>
<line x1="493.7" y1="412.42" x2="493.7" y2="429.96" stroke="#151515" stroke-width="1.1"/>
<line x1="492.1" y1="412.42" x2="495.3" y2="412.42" stroke="#151515" stroke-width="1.1"/>
<line x1="492.1" y1="429.96" x2="495.3" y2="429.96" stroke="#151515" stroke-width="1"/>
<text transform="translate(344.8,416.9) rotate(-90)" font-size="8.3" text-anchor="middle" textLength="76.4" lengthAdjust="spacingAndGlyphs">Relative gene expression</text>
<line x1="371.1" y1="410.9" x2="378.6" y2="410.9" stroke="#222" stroke-width="0.7"/>
<line x1="371.1" y1="410.9" x2="371.1" y2="412.5" stroke="#222" stroke-width="0.7"/>
<line x1="378.6" y1="410.9" x2="378.6" y2="412.5" stroke="#222" stroke-width="0.7"/>
<circle cx="375.1" cy="408.3" r="0.95" fill="#222"/>
<rect x="369.2" y="377.7" width="3.4" height="3.3" fill="#3bab3a"/>
<text x="376.2" y="381" font-size="6.6" textLength="20" lengthAdjust="spacingAndGlyphs">DMSO</text>
<rect x="369.2" y="385.5" width="3.4" height="3.3" fill="#0f4b86"/>
<text x="376.2" y="388.7" font-size="6.6" textLength="26.4" lengthAdjust="spacingAndGlyphs">GW4869</text>
<text transform="translate(378.1,470.7) rotate(-45)" font-size="6.6" text-anchor="end">HSC</text>
<text transform="translate(397.4,470.7) rotate(-45)" font-size="6.6" text-anchor="end">MPP2</text>
<text transform="translate(416.6,470.7) rotate(-45)" font-size="6.6" text-anchor="end">MPP3</text>
<text transform="translate(435.7,470.7) rotate(-45)" font-size="6.6" text-anchor="end">MPP4</text>
<text transform="translate(455,470.7) rotate(-45)" font-size="6.6" text-anchor="end">CMP</text>
<text transform="translate(474,470.7) rotate(-45)" font-size="6.6" text-anchor="end">GMP</text>
<text transform="translate(493.2,470.7) rotate(-45)" font-size="6.6" text-anchor="end">MEP</text>
</g>
<rect x="0" y="0" width="520" height="1" fill="#555"/><rect x="0" y="0" width="1.1" height="491" fill="#444"/><rect x="518.6" y="0" width="1.4" height="491" fill="#3a3a3a"/><rect x="0" y="489.6" width="520" height="1.4" fill="#3a3a3a"/>
</svg></body></html>
